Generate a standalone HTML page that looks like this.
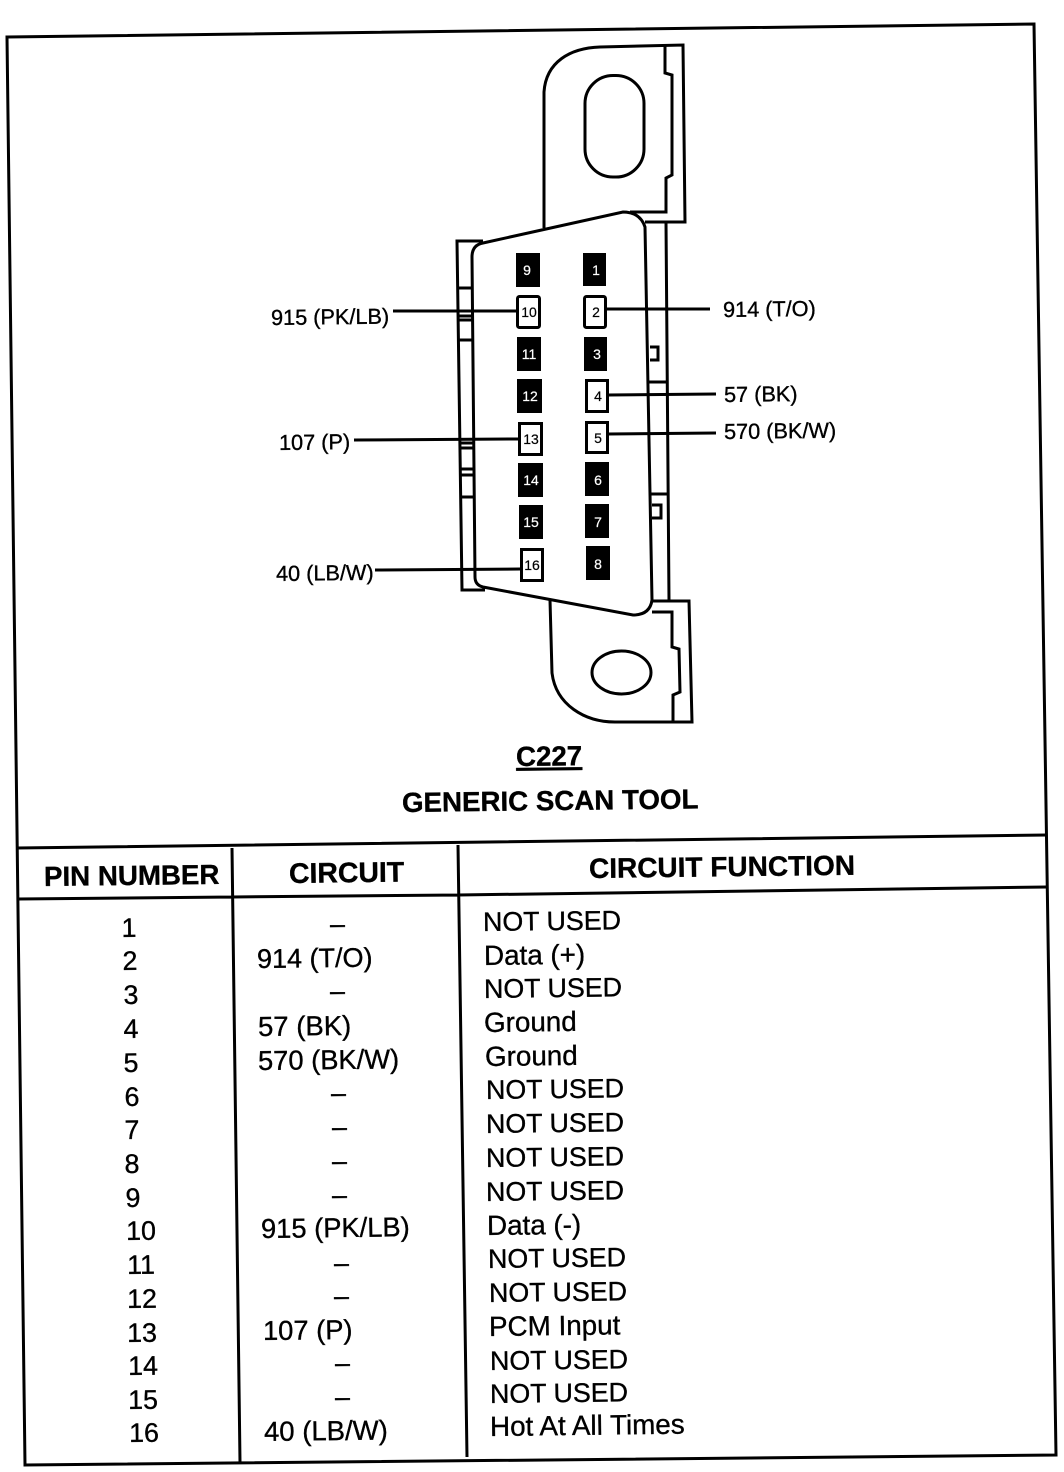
<!DOCTYPE html>
<html><head><meta charset="utf-8"><style>
html,body{margin:0;padding:0;background:#fff}
svg{display:block}
text{font-family:"Liberation Sans",sans-serif;fill:#000;stroke:#000;stroke-width:.35;transform-box:fill-box;transform-origin:left center;transform:rotate(-.7deg)}
.t{font-size:26.8px}
.m{font-size:27.8px}
.l{font-size:21.7px}
.b{font-size:27.7px;font-weight:bold}
.p{font-size:14px;text-anchor:middle;transform:none;stroke-width:.2}
.w{fill:#fff;stroke:#fff}
.pn{text-anchor:middle}
.ln{fill:none;stroke:#000;stroke-width:3}
</style></head><body>
<svg width="1064" height="1472" viewBox="0 0 1064 1472" xmlns="http://www.w3.org/2000/svg">
<rect width="1064" height="1472" fill="#fff"/>
<!-- frame -->
<g class="ln">
<path d="M7 37L1034 24L1056 1455L25 1465Z"/>
<path d="M17 848L1047 835M18 899L232 897L458 895L1047 887M232 848L240 1462M458 845L467 1457"/>
</g>
<!-- connector -->
<g class="ln">
<path d="M544 228L544 92C546 62 570 48 600 47L683 45L685 222L645 222"/>
<path d="M665 45L665 73L672 75L672 175L666 178L666 212L630 212"/>
<rect x="585" y="75.500" width="59" height="101.500" rx="28" ry="28"/>
<path d="M472 257Q472 245 483 243L623 212Q640 212 645 227L652 600Q650 615 633 615L483 587Q475 585 475 577Z"/>
<path d="M483 241L457 241L462 590L485 590"/>
<path d="M458 288L473 288M459 316L473 316M459 320L473 320M459 340L473 340M460 443L474 443M461 448L474 448M461 469L474 469M461 475L474 475M461 497L475 497"/>
<path d="M666 222L669 600M648 382L667 382M650 494L669 494"/>
<path d="M650 347L658 347L658 360L650 360M652 505L661 505L661 518L652 518"/>
<path d="M550 600L552 673C556 705 585 722 615 722L692 722L689 601L652 601"/>
<path d="M652 612L672 612L672 647L679 649L680 692L673 695L673 722"/>
<ellipse cx="621.500" cy="672.500" rx="29.500" ry="21.500"/>
<!-- leader lines -->
<path d="M393 311L516 311M606 309L710 309M608 395L716 394M608 434L716 433M354 440L518 439M375 570L520 569"/>
</g>
<!-- pins -->
<g fill="#000">
<rect x="516" y="253" width="24" height="34"/><rect x="583" y="253" width="23" height="33"/>
<rect x="517" y="337" width="24" height="34"/><rect x="584" y="337" width="23" height="34"/>
<rect x="517" y="379" width="25" height="34"/>
<rect x="518" y="463" width="25" height="34"/><rect x="585" y="462" width="24" height="34"/>
<rect x="519" y="505" width="24" height="34"/><rect x="585" y="504" width="24" height="34"/>
<rect x="586" y="546" width="24" height="34"/>
</g>
<g fill="#fff" stroke="#000" stroke-width="3">
<rect x="517.500" y="296.500" width="22" height="31" rx="2"/><rect x="584.500" y="296.500" width="21" height="31" rx="2"/>
<rect x="586.500" y="380.500" width="21" height="31"/>
<rect x="519.500" y="423.500" width="22" height="31"/><rect x="586.500" y="422.500" width="21" height="30"/>
<rect x="521.500" y="549.500" width="21" height="31"/>
</g>
<g>
<text class="p w" x="527" y="275">9</text><text class="p w" x="596" y="275">1</text>
<text class="p" x="529" y="317">10</text><text class="p" x="596" y="317">2</text>
<text class="p w" x="529" y="359">11</text><text class="p w" x="597" y="359">3</text>
<text class="p w" x="530" y="401">12</text><text class="p" x="598" y="401">4</text>
<text class="p" x="531" y="444">13</text><text class="p" x="598" y="443">5</text>
<text class="p w" x="531" y="485">14</text><text class="p w" x="598" y="485">6</text>
<text class="p w" x="531" y="527">15</text><text class="p w" x="598" y="527">7</text>
<text class="p" x="532" y="570">16</text><text class="p w" x="598" y="569">8</text>
</g>
<!-- callouts -->
<text class="l" x="271" y="325">915 (PK/LB)</text>
<text class="l" x="723" y="317">914 (T/O)</text>
<text class="l" x="724" y="402">57 (BK)</text>
<text class="l" x="724" y="439">570 (BK/W)</text>
<text class="l" x="279" y="450">107 (P)</text>
<text class="l" x="276" y="581">40 (LB/W)</text>
<!-- titles -->
<text class="b" x="516" y="766" style="text-decoration:underline">C227</text>
<text class="b" x="402" y="812">GENERIC SCAN TOOL</text>
<text class="b" x="44" y="886">PIN NUMBER</text>
<text class="b" x="289" y="883" style="font-size:28.400px">CIRCUIT</text>
<text class="b" x="589" y="878" style="font-size:28px">CIRCUIT FUNCTION</text>
<!-- pin numbers -->
<g>
<text class="t pn" x="129" y="937">1</text>
<text class="t pn" x="130" y="970">2</text>
<text class="t pn" x="131" y="1004">3</text>
<text class="t pn" x="131" y="1038">4</text>
<text class="t pn" x="131" y="1072">5</text>
<text class="t pn" x="132" y="1106">6</text>
<text class="t pn" x="132" y="1139">7</text>
<text class="t pn" x="132" y="1173">8</text>
<text class="t pn" x="133" y="1207">9</text>
<text class="t pn" x="141" y="1240">10</text>
<text class="t pn" x="141" y="1274">11</text>
<text class="t pn" x="142" y="1308">12</text>
<text class="t pn" x="142" y="1342">13</text>
<text class="t pn" x="143" y="1375">14</text>
<text class="t pn" x="143" y="1409">15</text>
<text class="t pn" x="144" y="1442">16</text>
<!-- circuits -->
<text class="t" x="257" y="968" style="font-size:27px">914 (T/O)</text>
<text class="t" x="258" y="1036" style="font-size:27.500px">57 (BK)</text>
<text class="t" x="258" y="1070" style="font-size:27.300px">570 (BK/W)</text>
<text class="t" x="261" y="1238" style="font-size:27.300px">915 (PK/LB)</text>
<text class="t" x="263" y="1340" style="font-size:27.300px">107 (P)</text>
<text class="t" x="264" y="1441" style="font-size:27.500px">40 (LB/W)</text>
<text class="t" x="330" y="933">–</text>
<text class="t" x="330" y="1000">–</text>
<text class="t" x="331" y="1102">–</text>
<text class="t" x="332" y="1136">–</text>
<text class="t" x="332" y="1170">–</text>
<text class="t" x="332" y="1204">–</text>
<text class="t" x="334" y="1272">–</text>
<text class="t" x="334" y="1305">–</text>
<text class="t" x="335" y="1372">–</text>
<text class="t" x="335" y="1406">–</text>
<!-- functions -->
<text class="t" x="483" y="931">NOT USED</text>
<text class="m" x="484" y="965">Data (+)</text>
<text class="t" x="484" y="998">NOT USED</text>
<text class="m" x="484" y="1032">Ground</text>
<text class="m" x="485" y="1066">Ground</text>
<text class="t" x="486" y="1099">NOT USED</text>
<text class="t" x="486" y="1133">NOT USED</text>
<text class="t" x="486" y="1167">NOT USED</text>
<text class="t" x="486" y="1201">NOT USED</text>
<text class="m" x="487" y="1235">Data (-)</text>
<text class="t" x="488" y="1268">NOT USED</text>
<text class="t" x="489" y="1302">NOT USED</text>
<text class="m" x="489" y="1336">PCM Input</text>
<text class="t" x="490" y="1370">NOT USED</text>
<text class="t" x="490" y="1403">NOT USED</text>
<text class="m" x="490" y="1436">Hot At All Times</text>
</g>
</svg>
</body></html>
